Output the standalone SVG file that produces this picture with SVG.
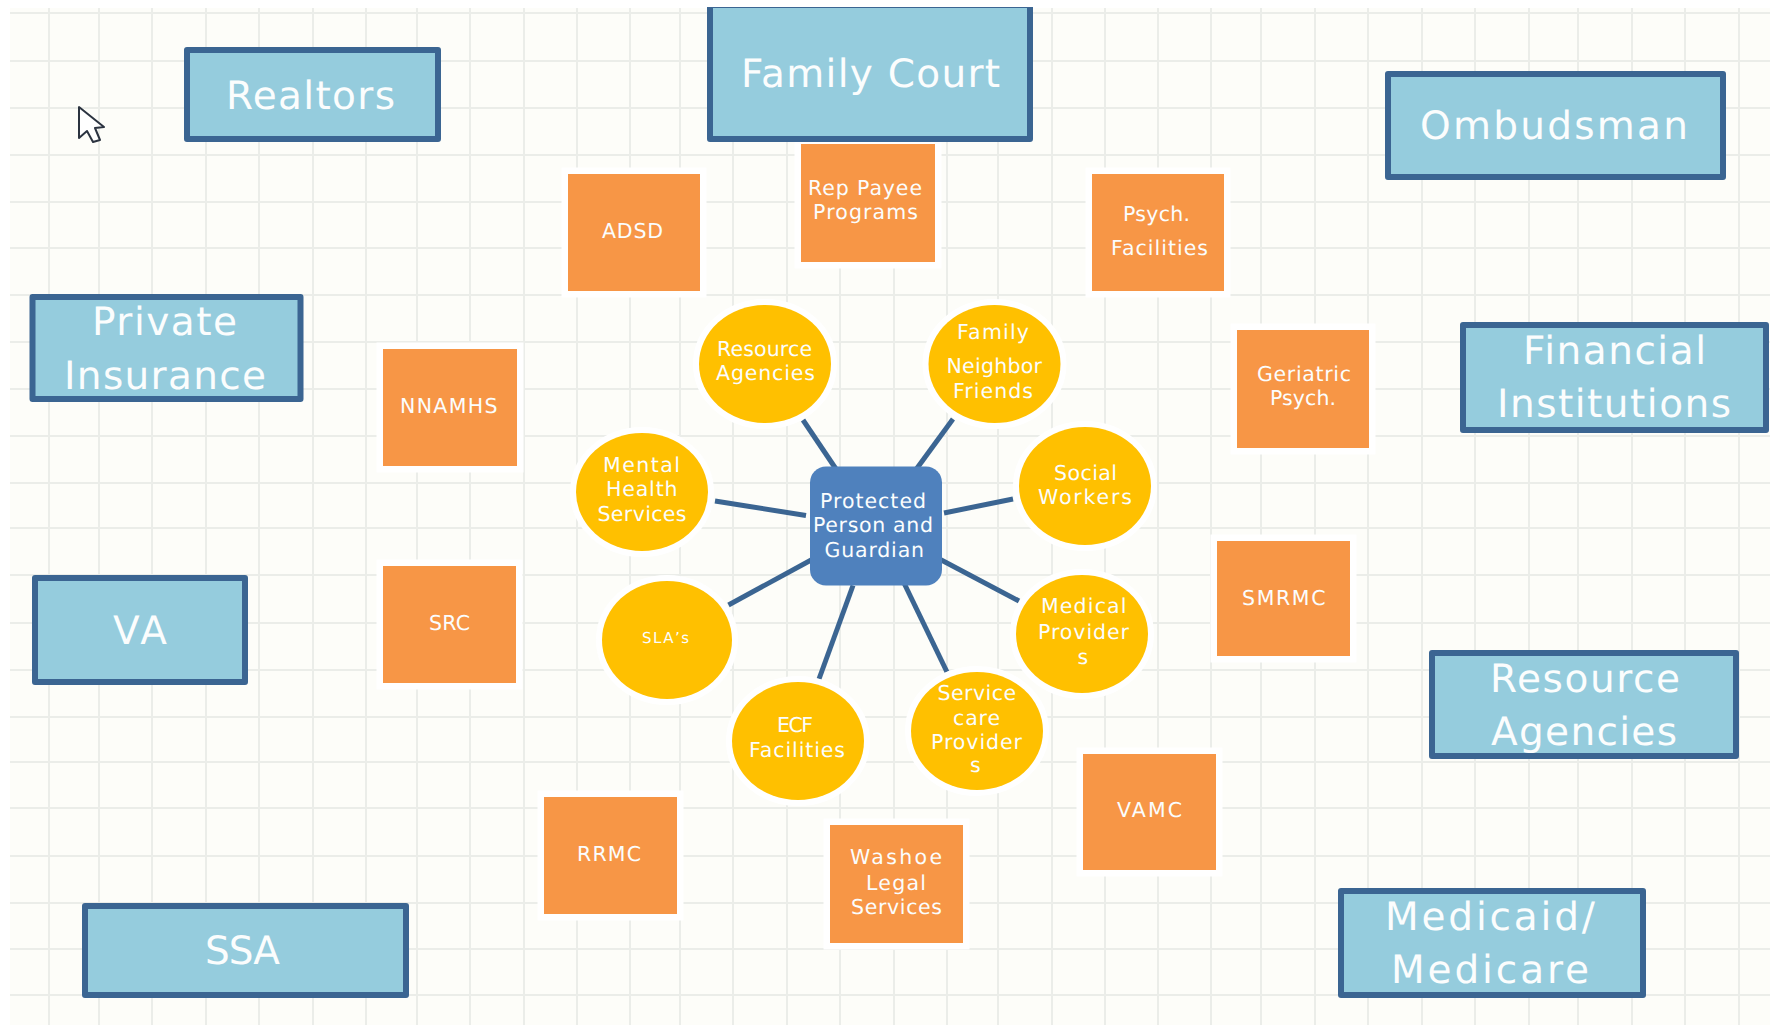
<svg xmlns="http://www.w3.org/2000/svg" width="1770" height="1025" viewBox="0 0 1770 1025">
<defs><clipPath id="topcut"><rect x="0" y="7" width="1770" height="1018"/></clipPath></defs>
<style>
text{font-family:"DejaVu Sans","Liberation Sans",sans-serif;fill:#fbfdfd;text-rendering:geometricPrecision}
.b rect{fill:#95ccdd;stroke:#3b6592;stroke-width:6;stroke-linejoin:round}
.b text{font-size:39px}
.o rect{fill:#f79646;stroke:#fff;stroke-width:13;paint-order:stroke}
.o text{font-size:20.500px}
.c ellipse{fill:#ffc000;stroke:#fff;stroke-width:12;paint-order:stroke}
.c text{font-size:20.500px}
#center rect{fill:#4f81bd}
#center text{font-size:20.500px}
#connectors line{stroke:#3b6592;stroke-width:5}
.g{stroke:#ebede9;stroke-width:2;fill:none}
</style>
<rect width="1770" height="1025" fill="#fff"/>
<rect x="10" y="8" width="1760" height="1017" fill="#fdfdf9"/>
<path class="g" d="M10 13H1770M10 61H1770M10 108H1770M10 155H1770M10 202H1770M10 248H1770M10 295H1770M10 342H1770M10 389H1770M10 436H1770M10 483H1770M10 528H1770M10 575H1770M10 623H1770M10 670H1770M10 717H1770M10 762H1770M10 808H1770M10 856H1770M10 903H1770M10 949H1770M10 995H1770M49 8V1025M99 8V1025M152 8V1025M206 8V1025M259 8V1025M313 8V1025M366 8V1025M417 8V1025M470 8V1025M524 8V1025M577 8V1025M630 8V1025M680 8V1025M733 8V1025M787 8V1025M840 8V1025M894 8V1025M947 8V1025M998 8V1025M1052 8V1025M1105 8V1025M1158 8V1025M1211 8V1025M1261 8V1025M1315 8V1025M1368 8V1025M1422 8V1025M1475 8V1025M1529 8V1025M1578 8V1025M1632 8V1025M1685 8V1025M1739 8V1025"/>
<path id="cursor" d="M79 107L79 138L87 131L93 142L100 140L95 128L104 127Z" fill="#fff" stroke="#2b3340" stroke-width="2" stroke-linejoin="round"/>
<g id="connectors">
<line x1="803" y1="420" x2="838" y2="472"/>
<line x1="953" y1="419" x2="913.500" y2="473"/>
<line x1="1013" y1="499" x2="944" y2="513"/>
<line x1="1019" y1="601" x2="937.500" y2="558"/>
<line x1="947" y1="672" x2="904" y2="583"/>
<line x1="819" y1="679" x2="853" y2="585.500"/>
<line x1="728.500" y1="605" x2="813" y2="559"/>
<line x1="715" y1="501" x2="806" y2="515.500"/>
</g>
<g id="nnamhs" class="o"><rect x="383" y="349" width="134" height="117"/><text x="400" y="413" textLength="97.500">NNAMHS</text></g>
<g id="adsd" class="o"><rect x="568" y="174" width="132" height="117"/><text x="602" y="237.500" textLength="61">ADSD</text></g>
<g id="rep-payee" class="o"><rect x="801" y="144" width="134" height="118"/><text x="808" y="194.500" textLength="114">Rep Payee</text><text x="813" y="219" textLength="105">Programs</text></g>
<g id="psych-facilities" class="o"><rect x="1092" y="174" width="132" height="117"/><text x="1123" y="220.500" textLength="67">Psych.</text><text x="1111" y="255" textLength="97">Facilities</text></g>
<g id="geriatric-psych" class="o"><rect x="1237" y="330" width="132" height="118"/><text x="1257" y="381" textLength="94">Geriatric</text><text x="1270" y="405" textLength="66">Psych.</text></g>
<g id="smrmc" class="o"><rect x="1217" y="541" width="133" height="115"/><text x="1242" y="605" textLength="83.500">SMRMC</text></g>
<g id="src" class="o"><rect x="383" y="566" width="133" height="117"/><text x="429" y="630" textLength="41">SRC</text></g>
<g id="vamc" class="o"><rect x="1083" y="754" width="133" height="116"/><text x="1117" y="816.500" textLength="65">VAMC</text></g>
<g id="rrmc" class="o"><rect x="544" y="797" width="133" height="117"/><text x="577" y="861" textLength="64">RRMC</text></g>
<g id="washoe" class="o"><rect x="830" y="825" width="133" height="118"/><text x="850" y="864" textLength="92">Washoe</text><text x="866" y="890" textLength="60">Legal</text><text x="851" y="913.500" textLength="91">Services</text></g>
<g id="realtors" class="b"><rect x="187" y="50" width="251" height="89"/><text x="226" y="109" textLength="169">Realtors</text></g>
<g id="private-insurance" class="b"><rect x="32.500" y="297" width="268" height="102"/><text x="92" y="335" textLength="145">Private</text><text x="64" y="389" textLength="202">Insurance</text></g>
<g id="family-court" class="b"><rect x="710" y="5" width="320" height="134" clip-path="url(#topcut)"/><text x="741" y="87" textLength="259">Family Court</text></g>
<g id="ombudsman" class="b"><rect x="1388" y="74" width="335" height="103"/><text x="1420" y="139" textLength="268">Ombudsman</text></g>
<g id="financial-institutions" class="b"><rect x="1463" y="325" width="303" height="105"/><text x="1523" y="364" textLength="183">Financial</text><text x="1497" y="417" textLength="234">Institutions</text></g>
<g id="va" class="b"><rect x="35" y="578" width="210" height="104"/><text x="113" y="644" textLength="54">VA</text></g>
<g id="ssa" class="b"><rect x="85" y="906" width="321" height="89"/><text x="205" y="964" textLength="75">SSA</text></g>
<g id="resource-agencies-outer" class="b"><rect x="1432" y="653" width="304" height="103"/><text x="1490" y="692" textLength="190">Resource</text><text x="1491" y="745" textLength="186">Agencies</text></g>
<g id="medicaid-medicare" class="b"><rect x="1341" y="891" width="302" height="104"/><text x="1385" y="930" textLength="210">Medicaid/</text><text x="1391" y="983" textLength="198">Medicare</text></g>
<g id="resource-agencies" class="c"><ellipse cx="765" cy="364" rx="66" ry="59"/><text x="717" y="355.500" textLength="95">Resource</text><text x="716" y="380" textLength="99">Agencies</text></g>
<g id="family" class="c"><ellipse cx="994.500" cy="364" rx="66" ry="59"/><text x="957" y="339" textLength="72">Family</text><text x="946.500" y="373" textLength="95.500">Neighbor</text><text x="953" y="398" textLength="80">Friends</text></g>
<g id="social-workers" class="c"><ellipse cx="1085" cy="486" rx="66" ry="59"/><text x="1054" y="480" textLength="63">Social</text><text x="1038" y="504" textLength="94">Workers</text></g>
<g id="medical-providers" class="c"><ellipse cx="1082" cy="634" rx="66" ry="59"/><text x="1041" y="613" textLength="85.500">Medical</text><text x="1038" y="639" textLength="91">Provider</text><text x="1077.500" y="664" textLength="9">s</text></g>
<g id="service-care" class="c"><ellipse cx="977" cy="731" rx="66" ry="59"/><text x="937.500" y="700" textLength="78.500">Service</text><text x="953" y="725" textLength="47">care</text><text x="931" y="749" textLength="91">Provider</text><text x="970" y="772" textLength="10">s</text></g>
<g id="ecf" class="c"><ellipse cx="798" cy="741" rx="66" ry="59"/><text x="777" y="732" textLength="36">ECF</text><text x="749" y="756.500" textLength="96">Facilities</text></g>
<g id="slas" class="c"><ellipse cx="667" cy="640" rx="65" ry="59"/><text x="642" y="643" textLength="47" style="font-size:15px">SLA’s</text></g>
<g id="mental-health" class="c"><ellipse cx="642" cy="492" rx="66" ry="59"/><text x="603" y="472" textLength="77">Mental</text><text x="606" y="496" textLength="71.500">Health</text><text x="597.500" y="521" textLength="89">Services</text></g>
<g id="center"><rect x="810" y="466.500" width="132" height="119" rx="16"/><text x="820" y="508" textLength="106">Protected</text><text x="813" y="532" textLength="120">Person and</text><text x="824.500" y="557" textLength="99.500">Guardian</text></g>
</svg>
